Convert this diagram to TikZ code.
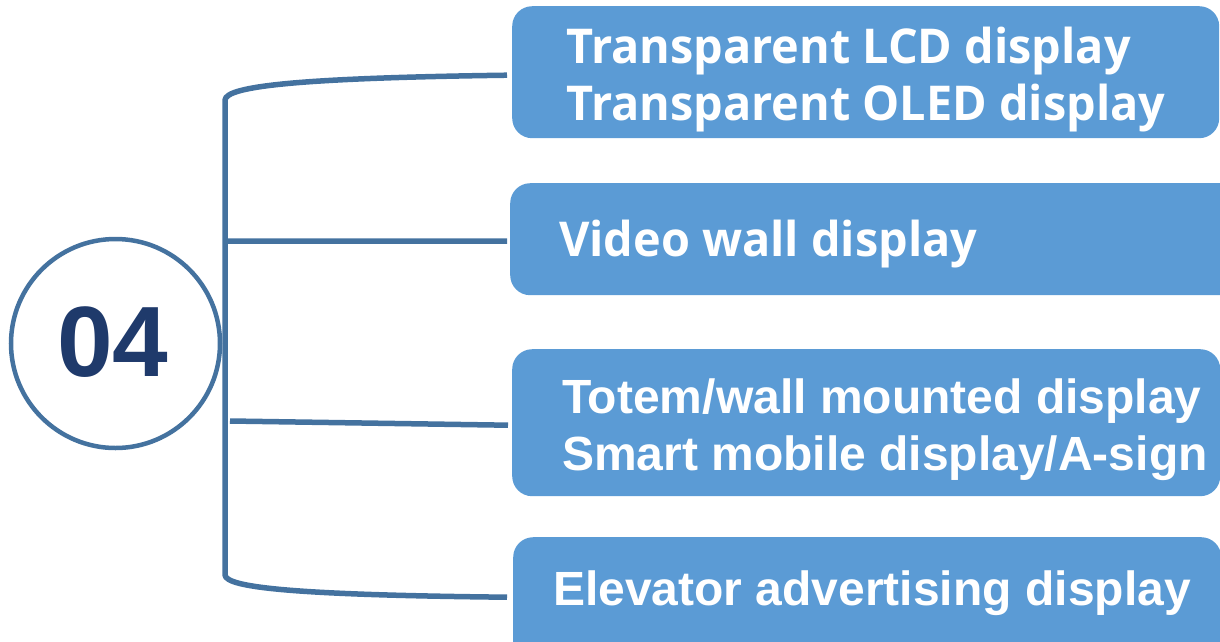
\documentclass[tikz,border=0pt]{standalone}
\usepackage{fontspec}
\setmainfont{Liberation Sans}
\newfontfamily\osans{Open Sans}[FakeStretch=0.975]
\usetikzlibrary{calc}
\definecolor{linec}{HTML}{44729F}
\definecolor{boxc}{HTML}{5B9BD5}
\definecolor{numc}{HTML}{1F3A6B}
\begin{document}
\begin{tikzpicture}[x=1pt,y=-1pt,
  conn/.style={draw=linec,line width=5.5pt},
  box/.style={fill=boxc,rounded corners=20pt,anchor=north west,inner sep=0pt},
  lbla/.style={text=white,font=\osans\bfseries\fontsize{48}{58}\selectfont,anchor=base west,inner sep=0pt},
  lblb/.style={text=white,font=\bfseries\fontsize{48}{57}\selectfont,anchor=base west,inner sep=0pt},
  numstyle/.style={font=\bfseries\fontsize{100}{100}\selectfont,inner sep=0pt}]
\useasboundingbox (0,0) rectangle (1220,641);
% boxes
\node[box,minimum width=707pt,minimum height=132pt] (box1) at (512,6) {};
\node[box,minimum width=740pt,minimum height=112pt] (box2) at (510,183) {};
\node[box,minimum width=708pt,minimum height=147pt] (box3) at (512,349) {};
\node[box,minimum width=708pt,minimum height=130pt] (box4) at (513,537) {};
% labels
\node[lbla] (t1a) at (566,63) {Transparent LCD display};
\node[lbla] (t1b) at (566,120) {Transparent OLED display};
\node[lbla] (t2) at (559,256) {Video wall display};
\node[lblb] (t3a) at (562,413) {Totem/wall mounted display};
\node[lblb] (t3b) at (562,470) {Smart mobile display/A-sign};
\node[lblb] (t4) at (553,605) {Elevator advertising display};
% circle and number
\node[circle,draw=linec,line width=4.5pt,minimum size=209pt,inner sep=0pt] (c) at (115.5,343.5) {};
\node[numstyle,text=numc] (num) at (113,342) {04};
% bracket connectors
\coordinate (jt) at (225,100);
\coordinate (jb) at (225,575);
\coordinate (j2) at (228,241);
\coordinate (j3) at (230,421);
\draw[conn] ($(box1.west)+(-5,3)$) .. controls (300,78) and (226,86) .. (jt) -- (jb)
  .. controls (226,588) and (300,595) .. ($(box4.west)+(-6,-5)$);
\draw[conn] (j2) -- ($(box2.west)+(-3,2)$);
\draw[conn] (j3) -- ($(box3.west)+(-4,2.5)$);
\end{tikzpicture}
\end{document}
